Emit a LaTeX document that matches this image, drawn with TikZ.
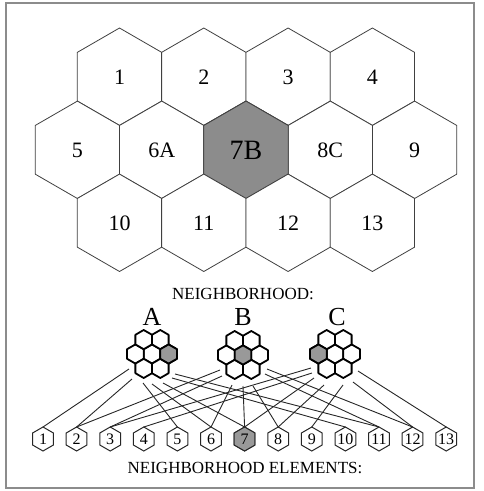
\documentclass[tikz,border=0pt]{standalone}
\usepackage{fontspec}
\setmainfont{Liberation Serif}
\newcommand{\drawhex}[4]{%
  \path[#1] ([shift={(#2,#3)}]90:#4) -- ([shift={(#2,#3)}]30:#4) -- ([shift={(#2,#3)}]-30:#4)
   -- ([shift={(#2,#3)}]-90:#4) -- ([shift={(#2,#3)}]-150:#4) -- ([shift={(#2,#3)}]150:#4) -- cycle;}
\tikzset{
  frame/.style={draw=black!45, line width=1.2pt},
  bighex/.style={draw=black!75, line width=0.8pt, fill=white},
  bigshade/.style={draw=black!75, line width=0.8pt, fill=black!45},
  biglab/.style={inner sep=0pt, font=\fontsize{22}{22}\selectfont},
  smallhex/.style={draw=black, line width=1.8pt, fill=white, line join=round},
  smallshade/.style={draw=black, line width=1.8pt, fill=black!40, line join=round},
  elhex/.style={draw=black!85, line width=1pt, fill=white},
  elshade/.style={draw=black!85, line width=1pt, fill=black!40},
  ellab/.style={inner sep=0pt, font=\fontsize{16}{16}\selectfont},
  headlab/.style={inner sep=0pt, font=\fontsize{17}{17}\selectfont},
  grouplab/.style={inner sep=0pt, font=\fontsize{26}{26}\selectfont},
  conn/.style={draw=black!85, line width=0.9pt}
}
\begin{document}
\begin{tikzpicture}[x=1pt,y=-1pt]
\useasboundingbox (0,0) rectangle (484,491);
\draw[frame] (6,3) rectangle (474,488);

% big hex grid
\foreach \lab [count=\k from 0] in {1,2,3,4} {
  \pgfmathsetmacro\cx{119.5+84.3*\k}
  \drawhex{bighex}{\cx}{76.7}{48.7}
  \node[biglab] (h\lab) at (\cx,77.5) {\lab};
}
\foreach \lab [count=\k from 0] in {5,6A,7B,8C,9} {
  \pgfmathsetmacro\cx{77.4+84.3*\k}
  \drawhex{bighex}{\cx}{149.8}{48.7}
}
\drawhex{bigshade}{246.0}{149.8}{48.7}
\node[biglab] (h5) at (77.4,150.5) {5};
\node[biglab] (h6) at (161.7,150.5) {6A};
\node[inner sep=0pt, font=\fontsize{28}{28}\selectfont] (h7) at (246.0,150.5) {7B};
\node[biglab] (h8) at (330.3,150.5) {8C};
\node[biglab] (h9) at (414.6,150.5) {9};
\foreach \lab [count=\k from 0] in {10,11,12,13} {
  \pgfmathsetmacro\cx{119.5+84.3*\k}
  \drawhex{bighex}{\cx}{222.8}{48.7}
  \node[biglab] (h\lab) at (\cx,223.5) {\lab};
}

% labels
\node[headlab] (nh) at (243,294) {NEIGHBORHOOD:};
\node[grouplab] (la) at (152,317) {A};
\node[grouplab] (lb) at (243,317) {B};
\node[grouplab] (lc) at (337,317) {C};
\node[headlab] (ne) at (245,468) {NEIGHBORHOOD ELEMENTS:};

% clusters
\foreach \cxx/\cyy/\sh in {152/354/1, 243/355/0, 335/354/-1} {
  \foreach \dx/\dy in {0/0, 16.6/0, -16.6/0, 8.3/-14.4, -8.3/-14.4, 8.3/14.4, -8.3/14.4} {
    \pgfmathsetmacro\hx{\cxx+\dx}
    \pgfmathsetmacro\hy{\cyy+\dy}
    \drawhex{smallhex}{\hx}{\hy}{9.6}
  }
  \pgfmathsetmacro\hx{\cxx+16.6*\sh}
  \drawhex{smallshade}{\hx}{\cyy}{9.6}
}

% elements
\foreach \i in {1,...,13} {
  \pgfmathsetmacro\ex{43+33.6*(\i-1)}
  \drawhex{elhex}{\ex}{439}{12}
  \coordinate (e\i) at (\ex,427);
}
\drawhex{elshade}{244.6}{439}{12}
\foreach \i in {1,...,13} {
  \pgfmathsetmacro\ex{43+33.6*(\i-1)}
  \node[ellab] (n\i) at (\ex,439.5) {\i};
}

% connectors
\foreach \c/\t/\x/\y in {
  A/1/129/369, A/2/132/379, A/5/143/383, A/6/152/384, A/7/163/383, A/10/172/378, A/11/175/374,
  B/2/220/370, B/3/222/376, B/6/232/385, B/7/243/386, B/8/253/386, B/11/265/374, B/12/267/369,
  C/3/311/368, C/4/312/373, C/7/314/378, C/8/324/385, C/9/343/385, C/12/353/382, C/13/358/371} {
  \coordinate (s\c\t) at (\x,\y);
  \draw[conn] (s\c\t) -- (e\t);
}
\end{tikzpicture}
\end{document}
